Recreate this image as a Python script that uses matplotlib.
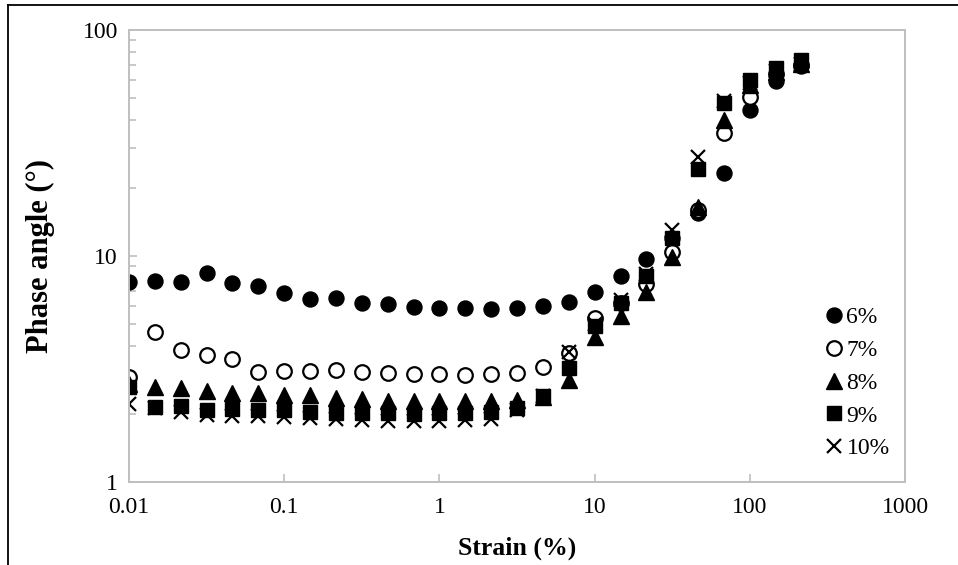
import numpy as np
import matplotlib
matplotlib.use('Agg')
import matplotlib.pyplot as plt
from matplotlib.lines import Line2D

plt.rcParams['font.family'] = ['Liberation Serif', 'DejaVu Serif']

# strain (%) - 6 points per decade
strain = [0.01, 0.0147, 0.0215, 0.0316, 0.0464, 0.0681, 0.1, 0.147, 0.215, 0.316,
          0.464, 0.681, 1, 1.47, 2.15, 3.16, 4.64, 6.81, 10, 14.7,
          21.5, 31.6, 46.4, 68.1, 100, 147, 215]

# phase angle (deg)
p6 = [7.65, 7.78, 7.65, 8.38, 7.57, 7.39, 6.88, 6.45, 6.50, 6.18,
      6.13, 5.93, 5.89, 5.87, 5.85, 5.89, 6.01, 6.28, 6.95, 8.15,
      9.68, 12.0, 15.5, 23.2, 44.3, 59.5, 69.3]
p7 = [2.92, 4.60, 3.84, 3.65, 3.50, 3.06, 3.11, 3.11, 3.13, 3.08,
      3.05, 3.00, 3.02, 2.98, 2.99, 3.05, 3.24, 3.71, 5.3, 6.2,
      7.5, 10.4, 16.0, 34.9, 50.7, 64.0, 70.0]
p8 = [2.72, 2.64, 2.60, 2.54, 2.47, 2.47, 2.43, 2.42, 2.35, 2.34,
      2.29, 2.28, 2.28, 2.29, 2.28, 2.30, 2.38, 2.83, 4.40, 5.45,
      6.92, 9.85, 16.5, 40.0, 57.0, 65.0, 71.0]
p9 = [2.62, 2.15, 2.17, 2.08, 2.11, 2.09, 2.08, 2.05, 2.03, 2.03,
      2.01, 2.00, 2.01, 2.03, 2.05, 2.12, 2.39, 3.20, 4.92, 6.17,
      8.18, 11.98, 24.3, 47.4, 60.1, 67.9, 73.7]
p10 = [2.21, 2.12, 2.05, 1.98, 1.95, 1.95, 1.93, 1.92, 1.90, 1.89,
       1.87, 1.87, 1.87, 1.88, 1.90, 2.08, 2.40, 3.75, 5.0, 6.4,
       8.3, 13.0, 27.5, 48.5, 58.0, 66.0, 71.0]

labels = ['6%', '7%', '8%', '9%', '10%']

fig = plt.figure(figsize=(9.58, 5.65), dpi=100)
ax = fig.add_axes([0.1347, 0.1469, 0.81, 0.80])

ax.plot(strain, p6, 'o', ms=10.8, color='black', label=labels[0])
ax.plot(strain, p7, 'o', ms=10.5, mfc='white', mec='black', mew=1.6, label=labels[1])
ax.plot(strain, p8, '^', ms=11, color='black', label=labels[2])
ax.plot(strain, p9, 's', ms=10, color='black', label=labels[3])
ax.plot(strain, p10, 'x', ms=10, mew=1.6, color='black', label=labels[4])

ax.set_xscale('log')
ax.set_yscale('log')
ax.set_xlim(0.01, 1000)
ax.set_ylim(1, 100)
ax.set_xticks([0.01, 0.1, 1, 10, 100, 1000])
ax.set_xticklabels(['0.01', '0.1', '1', '10', '100', '1000'])
ax.set_yticks([1, 10, 100])
ax.set_yticklabels(['1', '10', '100'])
ax.xaxis.set_minor_locator(matplotlib.ticker.NullLocator())
ax.yaxis.set_minor_formatter(matplotlib.ticker.NullFormatter())

for s in ax.spines.values():
    s.set_color('#bfbfbf')
    s.set_linewidth(1.4)
ax.tick_params(which='both', direction='in', color='#bfbfbf', width=1.2,
               labelsize=17)
ax.tick_params(which='major', length=6)
ax.tick_params(which='minor', length=5)
ax.tick_params(axis='x', top=False, pad=11)
ax.tick_params(axis='y', right=False, which='both', pad=8)

ax.set_xlabel('Strain (%)', fontsize=18.5, fontweight='bold', labelpad=13)
ax.set_ylabel('Phase angle (°)', fontsize=22, fontweight='bold', labelpad=20)

ax.legend(loc='center left', bbox_to_anchor=(0.895, 0.219), frameon=False,
          fontsize=17, handlelength=0.85, handletextpad=0.12,
          borderpad=0, labelspacing=0.48, borderaxespad=0)

# outer chart frame (top and left only, as cropped)
fig.add_artist(Line2D([8 / 958, 1], [1 - 5 / 565, 1 - 5 / 565],
                      transform=fig.transFigure, color='black', lw=1.3))
fig.add_artist(Line2D([8 / 958, 8 / 958], [0, 1 - 5 / 565],
                      transform=fig.transFigure, color='black', lw=1.3))

fig.savefig('out.png', dpi=100)
